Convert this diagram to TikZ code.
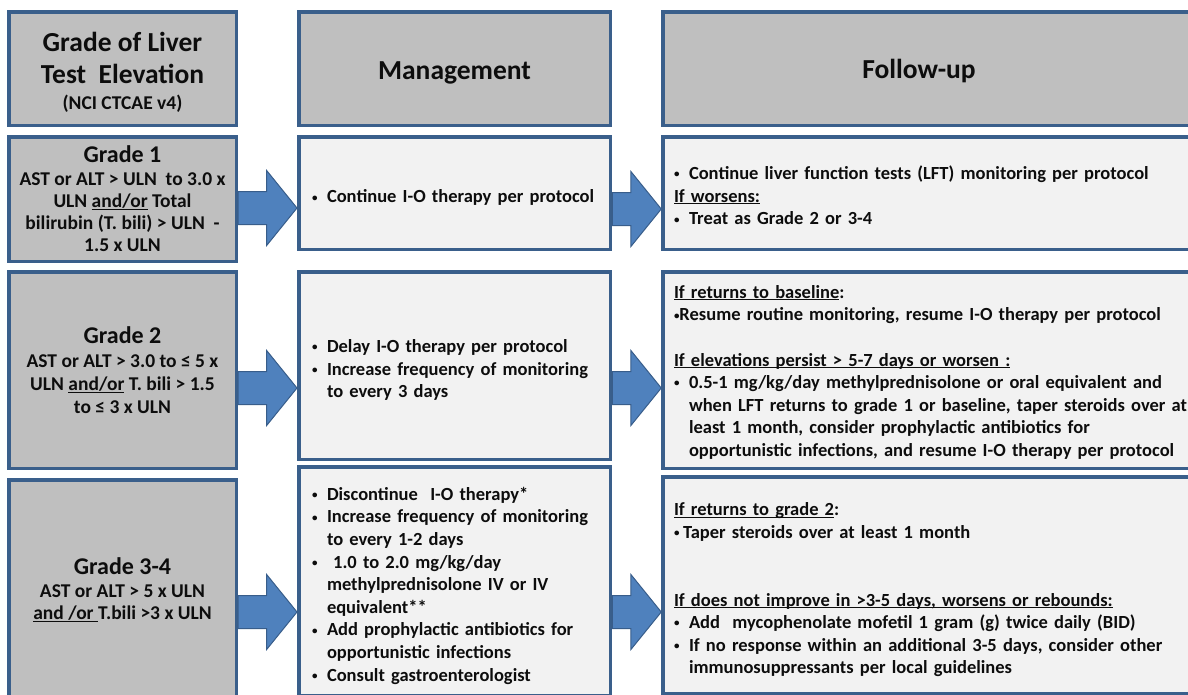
\documentclass[tikz,border=0pt]{standalone}
\usepackage{fontspec}
\setmainfont{Carlito}
\usetikzlibrary{shapes.arrows}

\definecolor{boxline}{HTML}{3A5F8B}
\definecolor{headgray}{HTML}{BFBFBF}
\definecolor{boxfill}{HTML}{F2F2F2}
\definecolor{arrowfill}{HTML}{4F81BD}
\definecolor{arrowline}{HTML}{385D8A}

\newcommand\uln[1]{\underline{\smash{#1}}}
\newcommand\bul{{\fontsize{11}{11}\selectfont\raisebox{1.8pt}{\textbullet}}}
\newcommand\itm[2][15pt]{\par\hangindent=#1\hangafter=1\noindent\makebox[#1][l]{\bul}#2\par}
\newcommand\hd[1]{\par\noindent\uln{#1}}

\begin{document}
\begin{tikzpicture}[x=1pt,y=-1pt,font=\bfseries\fontsize{18.5}{22.6}\selectfont,text=black!95]
  \tikzset{box/.style={draw=boxline,line width=3.5pt,inner sep=0pt},
    head/.style={box,fill=headgray,minimum height=113.5pt,font=\bfseries\fontsize{27.5}{32}\selectfont},
    grade/.style={box,fill=headgray,minimum width=227.5pt,align=center,font=\bfseries\fontsize{19.5}{22}\selectfont},
    mbox/.style={box,fill=boxfill,minimum width=311.5pt,text width=285pt,align=left},
    fbox/.style={box,fill=boxfill,minimum width=577pt,text width=555pt,align=left},
    barrow/.style={single arrow,draw=arrowline,fill=arrowfill,line width=1pt,minimum height=#1,
      inner xsep=0pt,inner ysep=16pt,single arrow head extend=21pt,single arrow tip angle=102,
      outer sep=0pt,anchor=tip}}
  \useasboundingbox (0,0) rectangle (1188,694);
  \clip (0,0) rectangle (1188,694);
  % header row
  \node[head,minimum width=227.5pt,align=center] (h1) at (122.5,68.5)
    {\rule{0pt}{27pt}Grade of Liver\\Test\ \ Elevation\\[-6pt]{\fontsize{19.5}{22}\selectfont (NCI CTCAE v4)}};
  \node[head,minimum width=311.5pt,text height=27pt] (h2) at (454.5,68.5) {Management};
  \node[head,minimum width=577pt] (h3) at (951.5,68.5) {};
  \node[font=\bfseries\fontsize{27.5}{32}\selectfont] (t3) at (919,71) {Follow-up};
  % grade 1
  \node[grade,minimum height=124.5pt] (g1) at (122.5,199)
    {{\fontsize{24}{27}\selectfont Grade 1}\\[1pt] AST or ALT > ULN\ \ to 3.0 x\\ ULN \uln{and/or} Total\\
     bilirubin (T. bili) > ULN\ \ -\\ 1.5 x ULN};
  \node[mbox,minimum height=112.5pt] (m1) at (454.5,193)
    {\itm{Continue I-O therapy per protocol}};
  \node[fbox,minimum height=112.5pt] (f1) at (951.5,193)
    {\itm{Continue liver function tests (LFT) monitoring per protocol}
     \hd{If worsens:}
     \itm{Treat as Grade 2 or 3-4}\vspace{4pt}};
  % grade 2
  \node[grade,minimum height=196.5pt] (g2) at (122.5,370)
    {{\fontsize{24}{27}\selectfont Grade 2}\\[2pt] AST or ALT > 3.0 to ≤ 5 x\\[1pt] ULN \uln{and/or} T. bili > 1.5\\[1pt] to ≤ 3 x ULN};
  \node[mbox,minimum height=187.5pt] (m2) at (454.5,365.5)
    {\itm{Delay I-O therapy per protocol}
     \itm{Increase frequency of monitoring\newline to every 3 days}};
  \node[fbox,minimum height=196.5pt] (f2) at (951.5,370)
    {\hd{If returns to baseline}:
     \par\noindent\bul Resume routine monitoring, resume I-O therapy per protocol
     \par\mbox{}
     \hd{If elevations persist > 5-7 days or worsen :}
     \itm{0.5-1 mg/kg/day methylprednisolone or oral equivalent and\newline
       when LFT returns to grade 1 or baseline, taper steroids over at\newline
       least 1 month, consider prophylactic antibiotics for\newline
       opportunistic infections, and resume I-O therapy per protocol}\vspace{5pt}};
  % grade 3-4
  \node[grade,minimum height=220.5pt] (g3) at (122.5,590)
    {{\fontsize{24}{27}\selectfont Grade 3-4}\\[1pt] AST or ALT > 5 x ULN\\ \uln{and /or }T.bili >3 x ULN};
  \node[mbox,minimum height=228.5pt] (m3) at (454.5,581)
    {\itm{Discontinue\ \ I-O therapy*}
     \itm{Increase frequency of monitoring\newline to every 1-2 days}
     \itm{\ 1.0 to 2.0 mg/kg/day\newline methylprednisolone IV or IV\newline equivalent**}
     \itm{Add prophylactic antibiotics for\newline opportunistic infections}
     \itm{Consult gastroenterologist}};
  \node[fbox,minimum height=216.5pt] (f3) at (951.5,585)
    {\hd{If returns to grade 2}:
     \itm[9pt]{Taper steroids over at least 1 month}
     \mbox{}\par\mbox{}
     \hd{If does not improve in >3-5 days, worsens or rebounds:}
     \itm{Add\ \ mycophenolate mofetil 1 gram (g) twice daily (BID)}
     \itm{If no response within an additional 3-5 days, consider other\newline immunosuppressants per local guidelines}};
  % block arrows
  \node[barrow=59pt] (a1) at (m1.west |- 0,208) {};
  \node[barrow=49pt] (b1) at (f1.west |- 0,209) {};
  \node[barrow=59pt] (a2) at (m2.west |- 0,388) {};
  \node[barrow=49pt] (b2) at (f2.west |- 0,388) {};
  \node[barrow=59pt] (a3) at (m3.west |- 0,612) {};
  \node[barrow=49pt] (b3) at (f3.west |- 0,612) {};
\end{tikzpicture}
\end{document}
